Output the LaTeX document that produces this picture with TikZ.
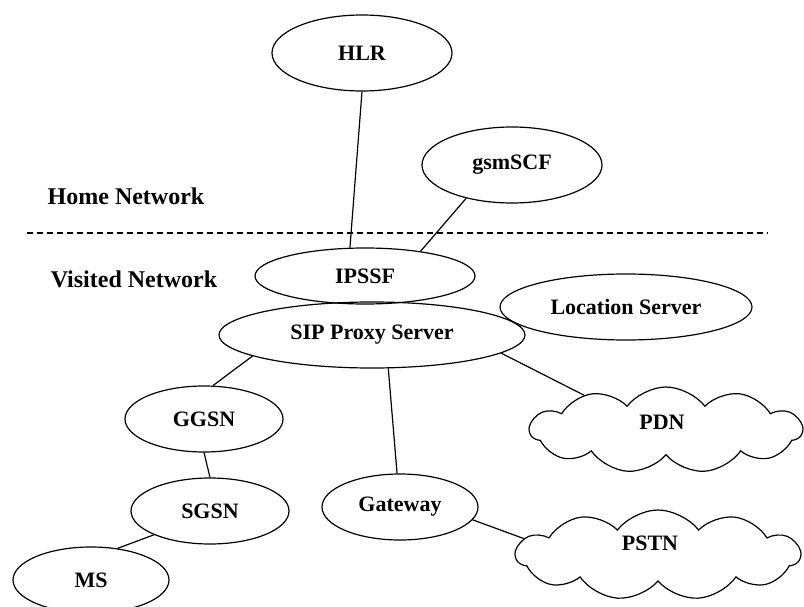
\documentclass[tikz,border=0pt]{standalone}
\usepackage{fontspec}
\setmainfont{Liberation Serif}
\usetikzlibrary{shapes.geometric,shapes.symbols}
\tikzset{
  ent/.style={ellipse, draw, line width=1.2pt, inner sep=0pt, font=\bfseries\fontsize{22}{26}\selectfont},
  netcloud/.style={cloud, draw, line width=1.2pt, cloud puffs=11, cloud puff arc=105, cloud ignores aspect, inner sep=0pt, font=\bfseries\fontsize{22}{26}\selectfont},
  lbl/.style={font=\bfseries\fontsize{24}{28}\selectfont, inner sep=0pt},
  link/.style={line width=1.2pt},
  sep/.style={line width=1.2pt, dash pattern=on 6pt off 4pt}
}
\begin{document}
\begin{tikzpicture}[x=1pt,y=-1pt]
\useasboundingbox (0,0) rectangle (804,607);
\clip (0,0) rectangle (804,607);
\node[ent, minimum width=180, minimum height=76] (hlr) at (362,53) {HLR};
\node[ent, minimum width=180, minimum height=76] (scf) at (512,165) {gsmSCF};
\node[ent, minimum width=220, minimum height=56] (ipssf) at (365,276) {IPSSF};
\node[ent, minimum width=306, minimum height=66] (sip) at (372,335) {SIP Proxy Server};
\node[ent, minimum width=252, minimum height=66] (ls) at (626,307) {Location Server};
\node[ent, minimum width=158, minimum height=66] (ggsn) at (204,419) {GGSN};
\node[ent, minimum width=158, minimum height=66] (sgsn) at (210,511) {SGSN};
\node[ent, minimum width=156, minimum height=66] (gw) at (400,507) {Gateway};
\node[ent, minimum width=156, minimum height=66] (ms) at (91,580) {MS};
\node[netcloud, minimum width=272, minimum height=86] (pdn) at (666,430) {};
\node[font=\bfseries\fontsize{22}{26}\selectfont] (pdnt) at (662,422) {PDN};
\node[netcloud, minimum width=284, minimum height=90] (pstn) at (658,555) {};
\node[font=\bfseries\fontsize{22}{26}\selectfont] (pstnt) at (650,543) {PSTN};
\node[lbl] (home) at (126,196) {Home Network};
\node[lbl] (visited) at (134,279) {Visited Network};
\coordinate (dl) at (27,233);
\coordinate (dr) at (768,233);
\draw[sep] (dl) -- (dr);
\draw[link] (hlr.south) -- (ipssf.118);
\draw[link] (scf.216) -- (ipssf.24);
\draw[link] (sip.190) -- (ggsn.75);
\draw[link] (ggsn.south) -- (sgsn.north);
\draw[link] (sgsn.203) -- (ms.50);
\draw[link] (sip.296) -- (gw.95);
\draw[link] (sip.352) -- (pdn.157);
\draw[link] (gw.350) -- (pstn.173);
\end{tikzpicture}
\end{document}
